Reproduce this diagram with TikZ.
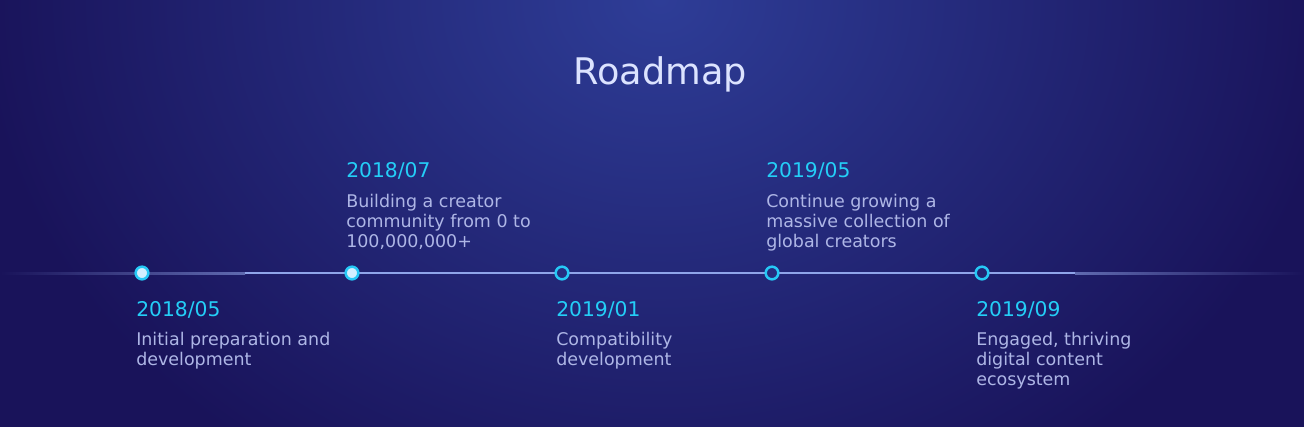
\documentclass[tikz,border=0pt]{standalone}
\usepackage{fontspec}
\setmainfont{DejaVu Sans}
\usetikzlibrary{positioning, calc}

\definecolor{bgedge}{HTML}{19135A}
\definecolor{bgglow}{HTML}{2E3D97}
\definecolor{titlec}{HTML}{DCE3FF}
\definecolor{datec}{HTML}{24CEF7}
\definecolor{capc}{HTML}{AEB6E6}
\definecolor{linec}{HTML}{8FA5EA}
\definecolor{dotc}{HTML}{26C8F6}
\definecolor{dotin}{HTML}{D3EFFF}

\tikzset{
  titletext/.style={anchor=base, inner sep=0pt, text=titlec,
    font=\fontsize{27.5}{33}\selectfont},
  datetext/.style={anchor=base west, inner sep=0pt, text=datec,
    font=\fontsize{15.2}{18}\selectfont},
  % base of a multi-line node sits on its last line
  captext/.style={anchor=base west, inner sep=0pt, text=capc, align=left,
    font=\fontsize{13.1}{15}\selectfont},
  dotdone/.style={circle, inner sep=0pt, minimum size=9.5, line width=2.5*0.75pt,
    draw=dotc, fill=dotin},
  dotnext/.style={circle, inner sep=0pt, minimum size=9.5, line width=2.5*0.75pt,
    draw=dotc}
}

\begin{document}
\begin{tikzpicture}[x=0.75pt, y=-0.75pt]
% background with glow at the top
\useasboundingbox (0,0) rectangle (1304,426);
\begin{scope}
  \clip (-6,-6) rectangle (1310,432);
  \fill[bgedge] (-6,-6) rectangle (1310,432);
  \shade[inner color=bgglow, outer color=bgedge] (660,0) ellipse (680 and 560);
\end{scope}

% title
\node[titletext] (title) at (660,84) {Roadmap};

% timeline axis, faded at both ends
\coordinate (axisL) at (0,273);
\coordinate (fadeL) at (245,273);
\coordinate (fadeR) at (1075,273);
\coordinate (axisR) at (1304,273);
\shade[left color=bgedge, right color=linec!60!bgedge] ($(axisL)+(0,-1)$) rectangle ($(fadeL)+(0,1)$);
\fill[linec] ($(fadeL)+(0,-1)$) rectangle ($(fadeR)+(0,1)$);
\shade[left color=linec!60!bgedge, right color=bgedge] ($(fadeR)+(0,-1)$) rectangle ($(axisR)+(0,1)$);

% milestones
\foreach \i/\x in {1/142, 2/352}
  \node[dotdone] (p\i) at (\x,273) {};
\foreach \i/\x/\pct in {3/562/62, 4/772/60, 5/982/42}
  \node[dotnext, fill=bgglow!\pct!bgedge] (p\i) at (\x,273) {};

% labels above the axis
\node[datetext] (t2) at (346,177) {2018/07};
\node[captext] (c2) at (346,247) {Building a creator\\community from 0 to\\100,000,000+};
\node[datetext] (t4) at (766,177) {2019/05};
\node[captext] (c4) at (766,247) {Continue growing a\\massive collection of\\global creators};

% labels below the axis
\node[datetext] (t1) at (136,316) {2018/05};
\node[captext] (c1) at (136,365) {Initial preparation and\\development};
\node[datetext] (t3) at (556,316) {2019/01};
\node[captext] (c3) at (556,365) {Compatibility\\development};
\node[datetext] (t5) at (976,316) {2019/09};
\node[captext] (c5) at (976,385) {Engaged, thriving\\digital content\\ecosystem};
\end{tikzpicture}
\end{document}
